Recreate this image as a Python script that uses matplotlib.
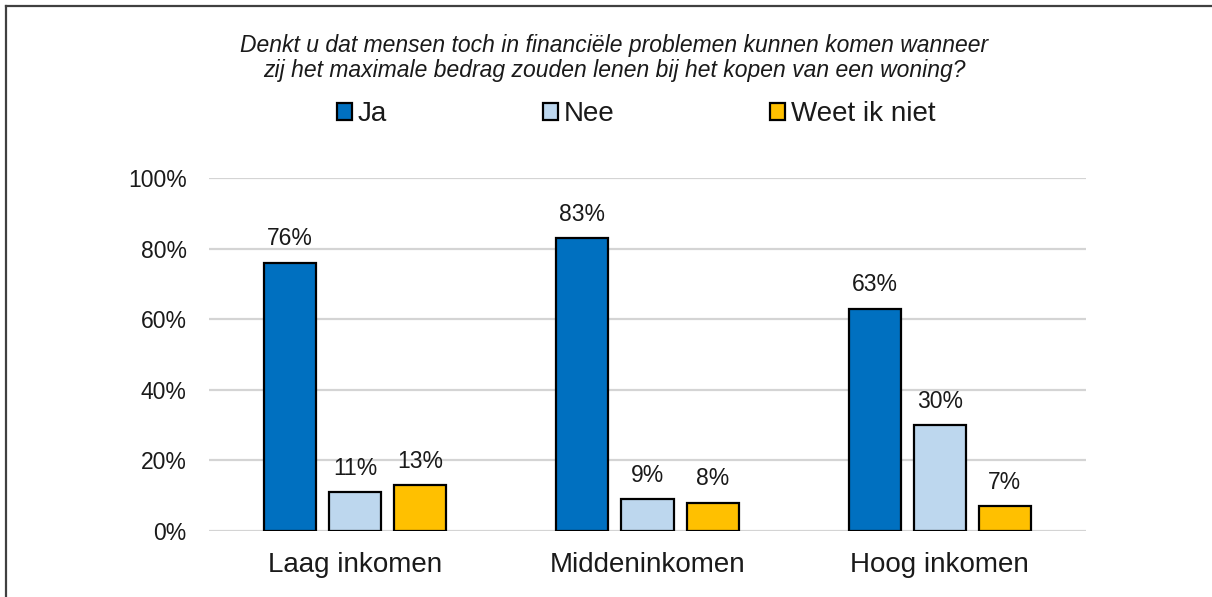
import matplotlib
matplotlib.use("Agg")
import matplotlib.pyplot as plt
from matplotlib.patches import Patch
from matplotlib.lines import Line2D
import numpy as np

plt.rcParams['font.family'] = ['Liberation Sans', 'DejaVu Sans']

# data
categories = ["Laag inkomen", "Middeninkomen", "Hoog inkomen"]
series_names = ["Ja", "Nee", "Weet ik niet"]
ja = [76, 83, 63]
nee = [11, 9, 30]
weet_niet = [13, 8, 7]
y_ticks = [0, 20, 40, 60, 80, 100]
title = ("Denkt u dat mensen toch in financiële problemen kunnen komen wanneer\n"
         "zij het maximale bedrag zouden lenen bij het kopen van een woning?")

colors = ["#0070C0", "#BDD7EE", "#FFC000"]

fig = plt.figure(figsize=(12.12, 5.97), dpi=100)
ax = fig.add_axes([209 / 1212, 1 - 531 / 597, (1086 - 209) / 1212, (531 - 178) / 597])

x = np.arange(len(categories))
width = 0.178
step = 0.2226
for i, (vals, col) in enumerate(zip([ja, nee, weet_niet], colors)):
    pos = x + (i - 1) * step
    bars = ax.bar(pos, vals, width, color=col, edgecolor="black", linewidth=1.6, zorder=3)
    for b, v in zip(bars, vals):
        ax.annotate("{}%".format(v), (b.get_x() + b.get_width() / 2, v),
                    xytext=(0, 9), textcoords="offset points",
                    ha="center", va="bottom", fontsize=16.5, color="#1a1a1a")

ax.set_xlim(-0.5, 2.5)
ax.set_ylim(0, 100)
ax.set_yticks(y_ticks)
ax.set_yticklabels(["{}%".format(t) for t in y_ticks], fontsize=16.5, color="#1a1a1a")
ax.set_xticks(x)
ax.set_xticklabels(categories, fontsize=20, color="#1a1a1a")
ax.tick_params(axis="both", length=0)
ax.tick_params(axis="y", pad=16)
ax.tick_params(axis="x", pad=15)
ax.grid(axis="y", color="#d4d4d4", linewidth=1.6, zorder=0)
for s in ax.spines.values():
    s.set_visible(False)

fig.text(614 / 1212, 1 - 58 / 597, title, ha="center", va="center",
         fontsize=16.5, style="italic", linespacing=1.15, color="#1a1a1a")

handles = [Patch(facecolor=c, edgecolor="black", linewidth=1.6) for c in colors]
fig.legend(handles, series_names, loc="center", bbox_to_anchor=(636 / 1212, 1 - 114 / 597),
           ncol=3, frameon=False, fontsize=20, handlelength=0.55, handleheight=0.55,
           handletextpad=0.2, columnspacing=5.6, labelcolor="#1a1a1a")

# outer frame of the chart area (top and left edges visible)
fig.add_artist(Line2D([6 / 1212, 6 / 1212], [0, 1 - 6 / 597], color="#404040", linewidth=1.6))
fig.add_artist(Line2D([6 / 1212, 1], [1 - 6 / 597, 1 - 6 / 597], color="#404040", linewidth=1.6))

fig.savefig("out.png", dpi=100, facecolor="white")
